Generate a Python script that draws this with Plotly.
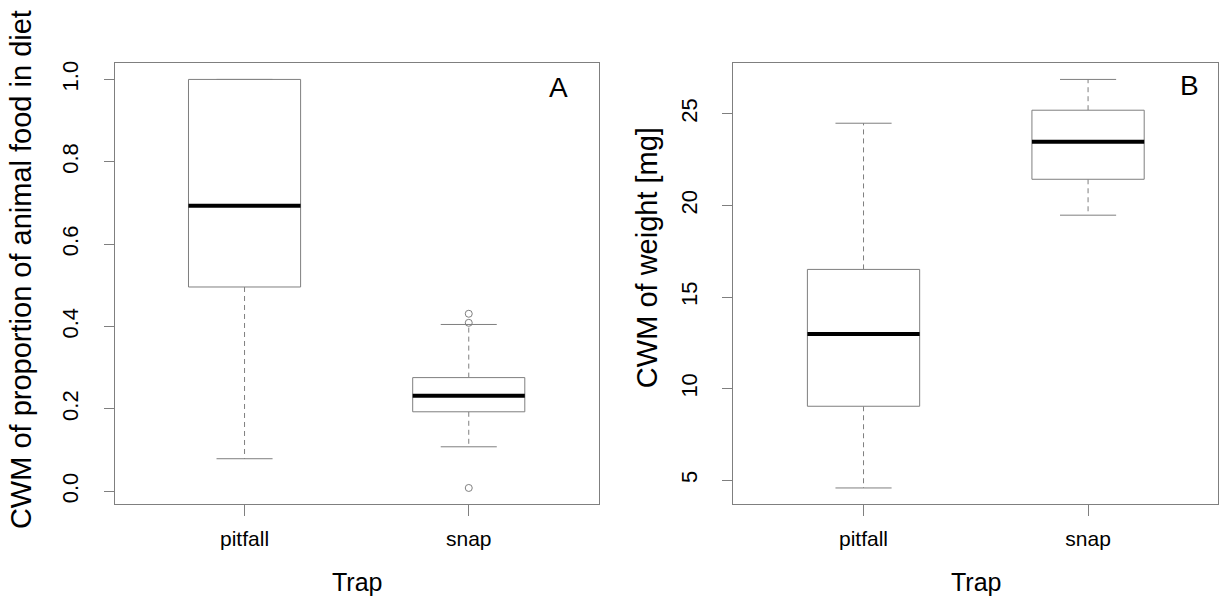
import plotly.graph_objects as go

# ---------------- data ----------------
categories = ["pitfall", "snap"]

# Panel A: CWM of proportion of animal food in diet
a_lower = [0.079, 0.108]
a_q1 = [0.496, 0.193]
a_median = [0.693, 0.232]
a_q3 = [1.000, 0.276]
a_upper = [1.000, 0.405]
a_out_cat = ["snap", "snap", "snap"]
a_out_val = [0.431, 0.409, 0.008]
a_ticks = [0.0, 0.2, 0.4, 0.6, 0.8, 1.0]
a_ticklabels = ["0.0", "0.2", "0.4", "0.6", "0.8", "1.0"]

# Panel B: CWM of weight [mg]
b_lower = [4.58, 19.47]
b_q1 = [9.04, 21.43]
b_median = [12.98, 23.48]
b_q3 = [16.51, 25.20]
b_upper = [24.49, 26.88]
b_out_cat = []
b_out_val = []
b_ticks = [5, 10, 15, 20, 25]
b_ticklabels = ["5", "10", "15", "20", "25"]

# ---------------- style ----------------
W, H = 1220, 596
FONT = "Liberation Sans, Arial, Helvetica, sans-serif"
GRAY = "#7f7f7f"
HALF_BOX = 0.25
HALF_CAP = 0.125

fig = go.Figure()


def add_boxes(xa, ya, lower, q1, med, q3, upper, out_cat, out_val):
    pos = {c: i + 1 for i, c in enumerate(categories)}
    for i, c in enumerate(categories):
        x0 = pos[c]
        # whiskers (dashed)
        fig.add_trace(go.Scatter(
            x=[x0, x0, None, x0, x0], y=[q3[i], upper[i], None, q1[i], lower[i]],
            mode="lines", line=dict(color=GRAY, width=1, dash="5px,4px"),
            xaxis=xa, yaxis=ya, showlegend=False, hoverinfo="skip"))
        # staples
        fig.add_trace(go.Scatter(
            x=[x0 - HALF_CAP, x0 + HALF_CAP, None, x0 - HALF_CAP, x0 + HALF_CAP],
            y=[upper[i], upper[i], None, lower[i], lower[i]],
            mode="lines", line=dict(color=GRAY, width=1),
            xaxis=xa, yaxis=ya, showlegend=False, hoverinfo="skip"))
        # box
        fig.add_trace(go.Scatter(
            x=[x0 - HALF_BOX, x0 + HALF_BOX, x0 + HALF_BOX, x0 - HALF_BOX, x0 - HALF_BOX],
            y=[q1[i], q1[i], q3[i], q3[i], q1[i]],
            mode="lines", line=dict(color=GRAY, width=1),
            fill="toself", fillcolor="white",
            xaxis=xa, yaxis=ya, showlegend=False, hoverinfo="skip"))
        # median
        fig.add_trace(go.Scatter(
            x=[x0 - HALF_BOX, x0 + HALF_BOX], y=[med[i], med[i]],
            mode="lines", line=dict(color="black", width=4),
            xaxis=xa, yaxis=ya, showlegend=False, hoverinfo="skip"))
    if out_val:
        fig.add_trace(go.Scatter(
            x=[pos[c] for c in out_cat], y=out_val, mode="markers",
            marker=dict(symbol="circle-open", size=7, color=GRAY, line=dict(width=1, color=GRAY)),
            xaxis=xa, yaxis=ya, showlegend=False, hoverinfo="skip"))


add_boxes("x", "y", a_lower, a_q1, a_median, a_q3, a_upper, a_out_cat, a_out_val)
add_boxes("x2", "y2", b_lower, b_q1, b_median, b_q3, b_upper, b_out_cat, b_out_val)


def yrange(vals):
    lo, hi = min(vals), max(vals)
    ext = 0.04 * (hi - lo)
    return [lo - ext, hi + ext]


a_all = a_lower + a_upper + a_out_val
b_all = b_lower + b_upper + b_out_val
n = len(categories)
xr = [0.5 - 0.04 * n, n + 0.5 + 0.04 * n]

# plot regions in pixels
ax_l, ax_r = 114.5, 598.8
bx_l, bx_r = 733.3, 1218.3
p_top, p_bot = 61.3, 504.0

common_x = dict(range=xr, tickvals=list(range(1, n + 1)), ticktext=categories,
                ticks="outside", ticklen=11, tickcolor=GRAY, tickwidth=1,
                showline=True, mirror=True, linecolor=GRAY, linewidth=1,
                showgrid=False, zeroline=False,
                tickfont=dict(family=FONT, size=21, color="black"),
                ticklabelstandoff=4, fixedrange=True)
common_y = dict(ticks="outside", ticklen=10, tickcolor=GRAY, tickwidth=1,
                showline=True, mirror=True, linecolor=GRAY, linewidth=1,
                showgrid=False, zeroline=False, tickangle=-90,
                tickfont=dict(family=FONT, size=22, color="black"),
                ticklabelstandoff=17, fixedrange=True,
                domain=[(H - p_bot) / H, (H - p_top) / H])

fig.update_layout(
    width=W, height=H,
    margin=dict(l=0, r=0, t=0, b=0),
    paper_bgcolor="white", plot_bgcolor="white",
    xaxis=dict(domain=[ax_l / W, ax_r / W], anchor="y", **common_x),
    yaxis=dict(anchor="x", range=yrange(a_all), tickvals=a_ticks, ticktext=a_ticklabels, **common_y),
    xaxis2=dict(domain=[bx_l / W, bx_r / W], anchor="y2", **common_x),
    yaxis2=dict(anchor="x2", range=yrange(b_all), tickvals=b_ticks, ticktext=b_ticklabels, **common_y),
    font=dict(family=FONT, color="black"),
)


def ann(text, px, py, size, angle=0):
    fig.add_annotation(text=text, x=px / W, y=1 - py / H, xref="paper", yref="paper",
                       xanchor="center", yanchor="middle", showarrow=False,
                       textangle=angle, font=dict(family=FONT, size=size, color="black"))


# axis titles
ann("CWM of proportion of animal food in diet", 21, 269, 29, -90)
ann("CWM of weight [mg]", 647, 257, 29, -90)
ann("Trap", (ax_l + ax_r) / 2, 582, 25)
ann("Trap", (bx_l + bx_r) / 2, 582, 25)
# panel letters
ann("A", 558, 86, 28)
ann("B", 1189, 84, 28)

fig.write_html(
    "out.html",
    config={"displayModeBar": False, "staticPlot": True},
    post_script="document.body.style.margin='0';document.body.style.overflow='hidden';",
)
